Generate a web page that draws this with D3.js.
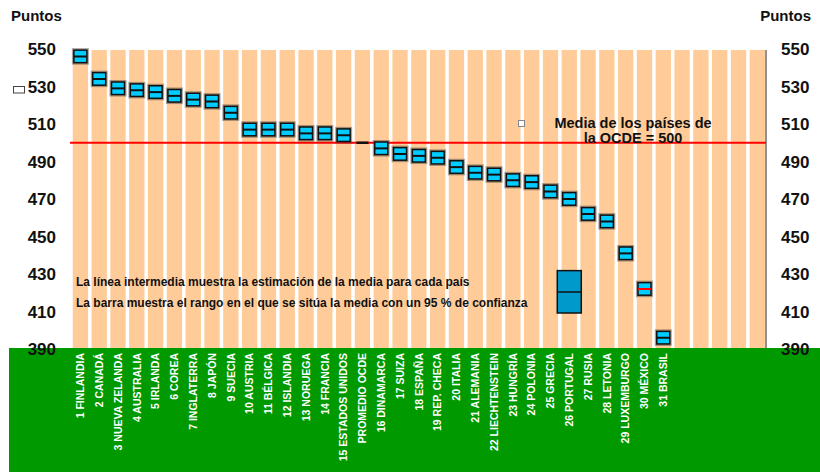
<!DOCTYPE html>
<html>
<head>
<meta charset="utf-8">
<script src="https://cdn.jsdelivr.net/npm/d3@7"></script>
<style>
  html, body { margin: 0; padding: 0; background: #fff; }
  svg { display: block; font-family: "Liberation Sans", Arial, sans-serif; font-weight: bold; }
</style>
</head>
<body>
<svg id="chart" width="820" height="472"></svg>
<script>
// Reading performance by country: mean estimate with its 95 % confidence band
const categories = ["1 FINLANDIA", "2 CANADÁ", "3 NUEVA ZELANDA", "4 AUSTRALIA", "5 IRLANDA",
  "6 COREA", "7 INGLATERRA", "8 JAPÓN", "9 SUECIA", "10 AUSTRIA", "11 BÉLGICA", "12 ISLANDIA",
  "13 NORUEGA", "14 FRANCIA", "15 ESTADOS UNIDOS", "PROMEDIO OCDE", "16 DINAMARCA", "17 SUIZA",
  "18 ESPAÑA", "19 REP. CHECA", "20 ITALIA", "21 ALEMANIA", "22 LIECHTENSTEIN", "23 HUNGRÍA",
  "24 POLONIA", "25 GRECIA", "26 PORTUGAL", "27 RUSIA", "28 LETONIA", "29 LUXEMBURGO",
  "30 MÉXICO", "31 BRASIL"];
const means = [546, 534, 529, 528, 527, 525, 523, 522, 516, 507, 507, 507, 505, 505, 504, 500,
  497, 494, 493, 492, 487, 484, 483, 480, 479, 474, 470, 462, 458, 441, 422, 396];
const upper = [549.4, 537.4, 532.4, 531.4, 530.4, 528.4, 526.4, 525.4, 519.4, 510.4, 510.4, 510.4,
  508.4, 508.4, 507.4, 500, 500.4, 497.4, 496.4, 495.4, 490.4, 487.4, 486.4, 483.4, 482.4, 477.4,
  473.4, 465.4, 461.4, 444.4, 425.4, 399.4];
const lower = [542.7, 530.7, 525.7, 524.7, 523.7, 521.7, 519.7, 518.7, 512.7, 503.7, 503.7, 503.7,
  501.7, 501.7, 500.7, 500, 493.7, 490.7, 489.7, 488.7, 483.7, 480.7, 479.7, 476.7, 475.7, 470.7,
  466.7, 458.7, 454.7, 437.7, 418.7, 392.7];
const highlighted = ["30 MÉXICO"];
const slotCount = 37;                 // plot columns, the trailing ones stay empty
const yTicks = [550, 530, 510, 490, 470, 450, 430, 410, 390];
const oecdMean = 500;
// explanatory sample box: low, estimate, high, and the column it sits in
const sampleBox = [409.2, 420.4, 431.8];
const sampleColumn = 26;
const notes = ["La línea intermedia muestra la estimación de la media para cada país",
  "La barra muestra el rango en el que se sitúa la media con un 95 % de confianza"];
const meanLabel = ["Media de los países de", "la OCDE = 500"];

const svg = d3.select("#chart");
const peach = "#FFCC99", green = "#009900", cyan = "#00CCFF", red = "#FF0000";

const x = d3.scaleBand().domain(d3.range(slotCount)).range([71, 766.7])
  .paddingInner(0.186).paddingOuter(0.093);
const y = d3.scaleLinear().domain([390, 550]).range([349, 49]);
const cx = i => x(i) + x.bandwidth() / 2;

// peach column strips
svg.append("g").selectAll("rect").data(d3.range(slotCount)).join("rect")
  .attr("x", d => x(d)).attr("y", y(550) + 1)
  .attr("width", x.bandwidth()).attr("height", 348 - y(550) - 1)
  .attr("fill", peach);

// right-hand axis line
svg.append("line").attr("x1", 766).attr("x2", 766).attr("y1", y(550) + 1).attr("y2", 348)
  .attr("stroke", "#555").attr("stroke-width", 1.3);

// OECD average line
svg.append("line").attr("x1", 70).attr("x2", 766).attr("y1", y(oecdMean)).attr("y2", y(oecdMean))
  .attr("stroke", red).attr("stroke-width", 2);

// confidence boxes
const bw = 13;
const boxes = svg.append("g").selectAll("g").data(categories).join("g");
boxes.each(function (name, i) {
  const g = d3.select(this);
  const c = cx(i);
  if (upper[i] === lower[i]) {
    g.append("line").attr("x1", c - 6).attr("x2", c + 6)
      .attr("y1", y(means[i])).attr("y2", y(means[i]))
      .attr("stroke", "#111").attr("stroke-width", 2.5);
    return;
  }
  const top = y(upper[i]), bot = y(lower[i]);
  g.append("rect").attr("x", c - bw / 2).attr("y", top).attr("width", bw).attr("height", bot - top)
    .attr("fill", "none").attr("stroke", "rgba(60,60,60,0.45)").attr("stroke-width", 4);
  g.append("rect").attr("x", c - bw / 2).attr("y", top).attr("width", bw).attr("height", bot - top)
    .attr("fill", cyan).attr("stroke", "#111").attr("stroke-width", 1.5);
  g.append("line").attr("x1", c - bw / 2).attr("x2", c + bw / 2)
    .attr("y1", y(means[i])).attr("y2", y(means[i]))
    .attr("stroke", highlighted.includes(name) ? red : "#111").attr("stroke-width", 2);
});

// explanatory sample box
{
  const c = cx(sampleColumn), w = 24;
  svg.append("rect").attr("x", c - w / 2).attr("y", y(sampleBox[2]))
    .attr("width", w).attr("height", y(sampleBox[0]) - y(sampleBox[2]))
    .attr("fill", "#0099CC").attr("stroke", "#111").attr("stroke-width", 1.5);
  svg.append("line").attr("x1", c - w / 2).attr("x2", c + w / 2)
    .attr("y1", y(sampleBox[1])).attr("y2", y(sampleBox[1]))
    .attr("stroke", "#111").attr("stroke-width", 1.5);
}

// notes
svg.append("g").selectAll("text").data(notes).join("text")
  .attr("x", 76).attr("y", (d, i) => 286 + i * 21)
  .attr("font-size", 12).attr("fill", "#111").text(d => d);

// OECD mean label
svg.append("rect").attr("x", 518.5).attr("y", 120.5).attr("width", 6).attr("height", 6)
  .attr("fill", "#fff").attr("stroke", "#888").attr("stroke-width", 1);
svg.append("g").selectAll("text").data(meanLabel).join("text")
  .attr("x", 633).attr("y", (d, i) => 127.5 + i * 15)
  .attr("text-anchor", "middle").attr("font-size", 14.5).attr("fill", "#111").text(d => d);

// green footer band
svg.append("rect").attr("x", 9).attr("y", 348).attr("width", 811).attr("height", 124).attr("fill", green);

// category labels
svg.append("g").selectAll("text").data(categories).join("text")
  .attr("transform", (d, i) => `translate(${cx(i)},353) rotate(-90)`)
  .attr("text-anchor", "end").attr("dy", "0.36em")
  .attr("font-size", 10.5).attr("fill", "#fff").text(d => d);

// axis tick labels on both sides
const fmt = d3.format("d");
svg.append("g").selectAll("text").data(yTicks).join("text")
  .attr("x", 56).attr("y", d => y(d)).attr("dy", "0.36em").attr("text-anchor", "end")
  .attr("font-size", 17).attr("fill", "#111").text(fmt);
svg.append("g").selectAll("text").data(yTicks).join("text")
  .attr("x", 781).attr("y", d => y(d)).attr("dy", "0.36em").attr("text-anchor", "start")
  .attr("font-size", 17).attr("fill", "#111").text(fmt);

// empty legend marker beside the left axis
svg.append("rect").attr("x", 13.5).attr("y", 86.5).attr("width", 11).attr("height", 6.5)
  .attr("fill", "#fff").attr("stroke", "#444").attr("stroke-width", 1);

// unit captions
svg.append("text").attr("x", 11).attr("y", 21).attr("font-size", 15).attr("fill", "#111").text("Puntos");
svg.append("text").attr("x", 811).attr("y", 21).attr("text-anchor", "end")
  .attr("font-size", 15).attr("fill", "#111").text("Puntos");
</script>
</body>
</html>
